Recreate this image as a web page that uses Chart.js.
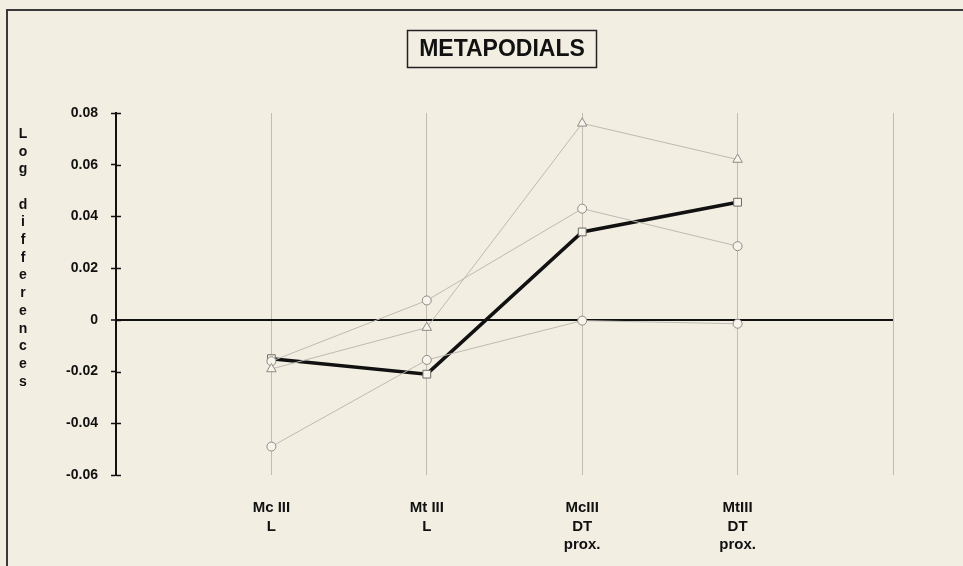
<!DOCTYPE html>
<html>
<head>
<meta charset="utf-8">
<title>Metapodials</title>
<script src="https://cdn.jsdelivr.net/npm/chart.js@4/dist/chart.umd.min.js"></script>
<style>
  html, body { margin: 0; padding: 0; background: #f3eee2; }
  #wrap { position: relative; width: 963px; height: 566px; overflow: hidden; }
  #frame { position: absolute; left: 6px; top: 9px; width: 980px; height: 600px;
           border-top: 2px solid #3a3a3a; border-left: 2px solid #3a3a3a; }
  canvas { position: absolute; left: 0; top: 0; }
</style>
</head>
<body>
<div id="wrap">
  <div id="frame"></div>
  <canvas id="c" width="963" height="566"></canvas>
</div>
<script>
// Measurements along the metapodials
const categories = [["Mc III", "L"], ["Mt III", "L"], ["McIII", "DT", "prox."], ["MtIII", "DT", "prox."]];
const yTicks = [-0.06, -0.04, -0.02, 0, 0.02, 0.04, 0.06, 0.08];
const yAxisTitle = ["L", "o", "g", "", "d", "i", "f", "f", "e", "r", "e", "n", "c", "e", "s"];

// Log differences per sample
const squareSeries   = [-0.015, -0.021, 0.034, 0.0455];
const triangleSeries = [-0.019, -0.003, 0.076, 0.062];
const upperCircle    = [-0.016, 0.0075, 0.043, 0.0285];
const lowerCircle    = [-0.049, -0.0155, -0.0003, -0.0015];

const toPoints = arr => arr.map((v, i) => ({ x: i + 1, y: v }));

const FONT = "'Liberation Sans', Arial, sans-serif";

const thin = (data, style, radius) => ({
  data: toPoints(data),
  borderColor: '#bdbab2',
  borderWidth: 1,
  pointStyle: style,
  pointRadius: radius,
  pointBorderColor: '#8d8a84',
  pointBackgroundColor: '#f7f4ec',
  pointBorderWidth: 1,
  tension: 0
});

// Boxed title, vertical letter title and tick marks crossing the y axis
const decorations = {
  id: 'decorations',
  afterDraw(chart) {
    const ctx = chart.ctx;
    const y = chart.scales.y;
    ctx.save();
    // inner halves of the y tick marks
    ctx.strokeStyle = '#111';
    ctx.lineWidth = 1.5;
    yTicks.forEach(v => {
      const py = Math.round(y.getPixelForValue(v)) + 0.5;
      ctx.beginPath();
      ctx.moveTo(y.right, py);
      ctx.lineTo(y.right + 5, py);
      ctx.stroke();
    });
    // boxed chart title
    ctx.font = 'bold 23px ' + FONT;
    ctx.fillStyle = '#111';
    ctx.textAlign = 'center';
    ctx.textBaseline = 'middle';
    ctx.fillText('METAPODIALS', 502, 50);
    ctx.strokeStyle = '#222';
    ctx.lineWidth = 1.5;
    ctx.strokeRect(407.5, 30.5, 189, 37);
    // y axis title written letter by letter
    ctx.font = 'bold 14px ' + FONT;
    yAxisTitle.forEach((ch, i) => {
      ctx.fillText(ch, 23, 134 + i * 17.7);
    });
    ctx.restore();
  }
};

new Chart(document.getElementById('c'), {
  type: 'line',
  data: {
    datasets: [
      thin(triangleSeries, 'triangle', 5.5),
      thin(upperCircle, 'circle', 4.5),
      thin(lowerCircle, 'circle', 4.5),
      {
        data: toPoints(squareSeries),
        borderColor: '#111',
        borderWidth: 3.5,
        pointStyle: 'rect',
        pointRadius: 5.5,
        pointBorderColor: '#6f6c66',
        pointBackgroundColor: '#f7f4ec',
        pointBorderWidth: 1,
        tension: 0
      }
    ]
  },
  options: {
    responsive: false,
    animation: false,
    events: [],
    layout: { padding: { left: 0, top: 113, right: 70, bottom: 0 } },
    plugins: { legend: { display: false }, tooltip: { enabled: false }, title: { display: false } },
    scales: {
      x: {
        type: 'linear',
        min: 0,
        max: 5,
        afterFit: s => { s.height = 91; },
        border: { display: false },
        grid: {
          drawTicks: false,
          color: c => (c.tick && c.tick.value > 0) ? 'rgba(175,172,165,0.75)' : 'transparent',
          lineWidth: 1
        },
        ticks: {
          stepSize: 1,
          autoSkip: false,
          maxRotation: 0,
          padding: 24,
          color: '#111',
          font: { family: FONT, size: 15, weight: 'bold', lineHeight: 1.22 },
          callback: v => (v >= 1 && v <= categories.length) ? categories[v - 1] : ''
        }
      },
      y: {
        min: -0.06,
        max: 0.08,
        afterFit: s => { s.width = 116; },
        afterBuildTicks: s => { s.ticks = yTicks.map(v => ({ value: v })); },
        border: { display: true, color: '#111', width: 2 },
        grid: {
          drawTicks: true,
          tickLength: 5,
          tickColor: '#111',
          tickWidth: 1.5,
          color: c => (c.tick && c.tick.value === 0) ? '#111' : 'transparent',
          lineWidth: c => (c.tick && c.tick.value === 0) ? 2 : 1
        },
        ticks: {
          padding: 13,
          color: '#111',
          font: { family: FONT, size: 14, weight: 'bold' },
          callback: v => v === 0 ? '0' : Number(v).toFixed(2)
        }
      }
    }
  },
  plugins: [decorations]
});
</script>
</body>
</html>
